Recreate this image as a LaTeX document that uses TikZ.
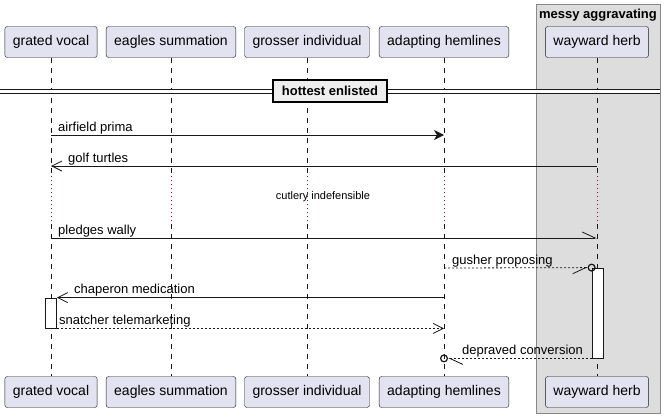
\documentclass[tikz,border=0pt]{standalone}
\usepackage{fontspec}
\setmainfont{Liberation Sans}
\usetikzlibrary{arrows.meta, calc}

\definecolor{partfill}{HTML}{E2E2F0}
\definecolor{partline}{HTML}{181818}
\definecolor{grpfill}{HTML}{DDDDDD}
\definecolor{grpline}{HTML}{888888}
\definecolor{delaydot}{HTML}{A80036}

\tikzset{
  participant/.style={draw=partline, fill=partfill, rounded corners=2.5pt, minimum height=31pt, inner xsep=8pt, font=\fontsize{14}{16}\selectfont},
  lifeline/.style={partline, line width=0.5pt, dash pattern=on 5pt off 5pt},
  delayline/.style={delaydot, line width=0.6pt, dash pattern=on 1pt off 3pt},
  activation/.style={draw=partline, fill=white, line width=0.8pt, minimum width=11pt, inner sep=0pt},
  msg/.style={partline, line width=0.8pt},
  reply/.style={msg, dash pattern=on 2pt off 2pt},
  label/.style={anchor=south west, inner sep=1pt, font=\fontsize{13}{15}\selectfont},
  openhead/.style={-{Straight Barb[length=10pt, width=10pt, line width=0.8pt]}},
  fullhead/.style={-{Stealth[length=10pt, width=10pt, inset=3pt]}}
}

\begin{document}
\begin{tikzpicture}[x=1pt, y=-1pt]
\useasboundingbox (0,0) rectangle (667,418);

\node[draw=grpline, fill=grpfill, minimum width=124pt, minimum height=409pt] (grp) at (598,208.5) {};
\node[font=\bfseries\fontsize{13}{15}\selectfont] (grpTitle) at (598,15) {messy aggravating};

\node[participant] (gvTop) at (51,42) {grated vocal};
\node[participant] (esTop) at (171,42) {eagles summation};
\node[participant] (giTop) at (307,42) {grosser individual};
\node[participant] (ahTop) at (444,42) {adapting hemlines};
\node[participant] (whTop) at (597,42) {wayward herb};

\node[participant] (gvBot) at (51,392) {grated vocal};
\node[participant] (esBot) at (171,392) {eagles summation};
\node[participant] (giBot) at (307,392) {grosser individual};
\node[participant] (ahBot) at (444,392) {adapting hemlines};
\node[participant] (whBot) at (597,392) {wayward herb};

\foreach \p in {gv, es, gi, ah, wh} {
  \draw[lifeline] (\p Top.south) -- (\p Top |- 0,176);
  \draw[delayline] (\p Top |- 0,176) -- (\p Top |- 0,224);
  \draw[lifeline] (\p Top |- 0,224) -- (\p Bot.north);
}

\fill[white] (0,89) rectangle (660,93);
\draw[partline, line width=0.8pt] (0,89) -- (660,89) (0,93) -- (660,93);
\node[draw, line width=1.5pt, fill={rgb,255:red,238;green,238;blue,238}, minimum height=22pt, inner xsep=9pt, font=\bfseries\fontsize{13}{15}\selectfont] (sep) at (330,91) {hottest enlisted};

\draw[msg, fullhead] (gvTop |- 0,135) -- (ahTop |- 0,135);
\node[label] (m1) at ($(gvTop |- 0,135)+(6,0)$) {airfield prima};

\draw[msg, openhead] (whTop |- 0,166) -- (gvTop |- 0,166);
\node[label] (m2) at ($(gvTop |- 0,166)+(16,0)$) {golf turtles};

\node[font=\fontsize{11}{13}\selectfont] (delay) at (323,197) {cutlery indefensible};

\draw[msg, -{Straight Barb[harpoon, length=13pt, width=12pt, line width=0.8pt]}] (gvTop |- 0,238) -- (whTop |- 0,238);
\node[label] (m3) at ($(gvTop |- 0,238)+(6,0)$) {pledges wally};

\node[activation, minimum height=30pt] (gvAct) at (51,313) {};
\node[activation, minimum height=90pt] (whAct) at (597.5,313) {};

\draw[reply, -{Straight Barb[harpoon, swap, length=13pt, width=12pt, line width=0.8pt, sep=0pt] Circle[open, length=8pt, line width=1.2pt]}] (ahTop |- 0,268) -- ($(whAct.north west)+(4,0)$);
\node[label] (m4) at ($(ahTop |- 0,268)+(7,0)$) {gusher proposing};

\draw[msg, openhead] (ahTop |- gvAct.north) -- (gvAct.north east);
\node[label] (m5) at ($(gvAct.north east)+(16,0)$) {chaperon medication};

\draw[reply, openhead] (gvAct.south east) -- (ahTop |- gvAct.south);
\node[label] (m6) at ($(gvAct.south east)+(1,0)$) {snatcher telemarketing};

\draw[reply, -{Straight Barb[harpoon, length=13pt, width=12pt, line width=0.8pt, sep=0pt] Circle[open, length=8pt, line width=1.2pt]}] (whAct.south west) -- ($(ahTop |- whAct.south)+(-4,0)$);
\node[label] (m7) at ($(ahTop |- 0,358)+(17,0)$) {depraved conversion};
\end{tikzpicture}
\end{document}
